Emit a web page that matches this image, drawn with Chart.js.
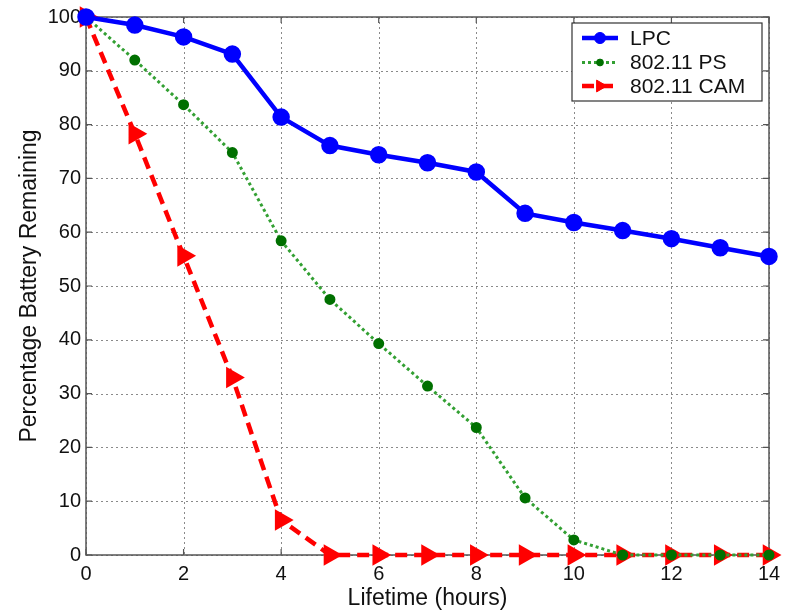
<!DOCTYPE html>
<html>
<head>
<meta charset="utf-8">
<script src="https://cdn.jsdelivr.net/npm/chart.js@4"></script>
<style>
  html, body { margin: 0; padding: 0; background: #fff; }
  #wrap { width: 798px; height: 613px; }
</style>
</head>
<body>
<div id="wrap"><canvas id="batteryChart" width="798" height="613"></canvas></div>
<script>
const hours = [0, 1, 2, 3, 4, 5, 6, 7, 8, 9, 10, 11, 12, 13, 14];
const lpcData = [100, 98.5, 96.3, 93.1, 81.4, 76.1, 74.4, 72.9, 71.2, 63.5, 61.8, 60.3, 58.8, 57.1, 55.5];
const psData = [100, 92.0, 83.7, 74.8, 58.4, 47.5, 39.3, 31.4, 23.7, 10.6, 2.8, 0, 0, 0, 0];
const camData = [100, 78.3, 55.6, 33.0, 6.5, 0, 0, 0, 0, 0, 0, 0, 0, 0, 0];
const xTicks = [0, 2, 4, 6, 8, 10, 12, 14];
const yTicks = [0, 10, 20, 30, 40, 50, 60, 70, 80, 90, 100];

const FONT = '"Liberation Sans", Arial, Helvetica, sans-serif';

const toPoints = (data) => data.map((v, i) => ({ x: hours[i], y: v }));

// dotted grid under the lines
const gridPlugin = {
    id: 'dottedGrid',
    beforeDatasetsDraw: (chart) => {
        const { ctx, chartArea: a, scales } = chart;
        ctx.save();
        ctx.strokeStyle = '#8a8a8a';
        ctx.lineWidth = 1;
        ctx.setLineDash([2, 3]);
        xTicks.forEach((t) => {
            const px = Math.round(scales.x.getPixelForValue(t)) + 0.5;
            ctx.beginPath();
            ctx.moveTo(px, a.top); ctx.lineTo(px, a.bottom);
            ctx.stroke();
        });
        yTicks.forEach((t) => {
            const py = Math.round(scales.y.getPixelForValue(t)) + 0.5;
            ctx.beginPath();
            ctx.moveTo(a.left, py); ctx.lineTo(a.right, py);
            ctx.stroke();
        });
        ctx.restore();
    }
};

// frame on all four sides + inner tick marks, MATLAB style
const framePlugin = {
    id: 'frame',
    beforeDatasetsDraw: (chart) => {
        const { ctx, chartArea: a, scales } = chart;
        ctx.save();
        ctx.strokeStyle = '#555';
        ctx.lineWidth = 1.5;
        ctx.strokeRect(a.left, a.top, a.right - a.left, a.bottom - a.top);
        ctx.lineWidth = 1.2;
        xTicks.forEach((t) => {
            const px = scales.x.getPixelForValue(t);
            ctx.beginPath();
            ctx.moveTo(px, a.bottom); ctx.lineTo(px, a.bottom - 6);
            ctx.moveTo(px, a.top); ctx.lineTo(px, a.top + 6);
            ctx.stroke();
        });
        yTicks.forEach((t) => {
            const py = scales.y.getPixelForValue(t);
            ctx.beginPath();
            ctx.moveTo(a.left, py); ctx.lineTo(a.left + 6, py);
            ctx.moveTo(a.right, py); ctx.lineTo(a.right - 6, py);
            ctx.stroke();
        });
        ctx.restore();
    }
};

// boxed legend in the top right corner
const legendPlugin = {
    id: 'boxLegend',
    afterDraw: (chart) => {
        const { ctx } = chart;
        const box = { x: 572, y: 23, w: 190, h: 78 };
        const rows = [38, 62.5, 86];
        ctx.save();
        ctx.fillStyle = '#fff';
        ctx.fillRect(box.x, box.y, box.w, box.h);
        ctx.strokeStyle = '#333';
        ctx.lineWidth = 1.2;
        ctx.strokeRect(box.x, box.y, box.w, box.h);
        chart.data.datasets.forEach((ds, i) => {
            const cy = rows[i];
            ctx.strokeStyle = ds.borderColor;
            ctx.lineWidth = ds.borderWidth;
            ctx.setLineDash(ds.borderDash || []);
            ctx.beginPath();
            ctx.moveTo(box.x + 10, cy);
            ctx.lineTo(box.x + 46, cy);
            ctx.stroke();
            ctx.setLineDash([]);
            ctx.fillStyle = ds.pointBackgroundColor;
            ctx.strokeStyle = ds.pointBorderColor;
            ctx.lineWidth = 1;
            Chart.helpers.drawPoint(ctx, {
                pointStyle: ds.pointStyle,
                radius: ds.pointRadius * 0.85,
                rotation: ds.pointRotation || 0,
                borderWidth: 1
            }, box.x + 28, cy);
            ctx.fillStyle = '#111';
            ctx.font = '21px ' + FONT;
            ctx.textBaseline = 'middle';
            ctx.fillText(ds.label, box.x + 58, cy + 1);
        });
        ctx.restore();
    }
};

const ctx = document.getElementById('batteryChart').getContext('2d');

const batteryChart = new Chart(ctx, {
    type: 'line',
    data: {
        datasets: [
            {
                label: 'LPC',
                data: toPoints(lpcData),
                borderColor: '#0000ff',
                backgroundColor: '#0000ff',
                pointBackgroundColor: '#0000ff',
                pointBorderColor: '#0000ff',
                borderWidth: 4.5,
                pointStyle: 'circle',
                pointRadius: 6.5,
                tension: 0,
            },
            {
                label: '802.11 PS',
                data: toPoints(psData),
                borderColor: '#33a033',
                backgroundColor: '#007000',
                pointBackgroundColor: '#007000',
                pointBorderColor: '#007000',
                borderWidth: 3,
                borderDash: [3, 3],
                pointStyle: 'circle',
                pointRadius: 4,
                tension: 0,
            },
            {
                label: '802.11 CAM',
                data: toPoints(camData),
                borderColor: '#ff0000',
                backgroundColor: '#ff0000',
                pointBackgroundColor: '#ff0000',
                pointBorderColor: '#ff0000',
                borderWidth: 4.5,
                borderDash: [12, 7],
                pointStyle: 'triangle',
                pointRotation: 90,
                pointRadius: 8,
                tension: 0,
            },
        ],
    },
    options: {
        responsive: false,
        animation: false,
        clip: false,
        layout: { padding: { top: 16, right: 29, left: 0, bottom: 0 } },
        plugins: {
            legend: { display: false },
            tooltip: { enabled: false },
        },
        scales: {
            x: {
                type: 'linear',
                min: 0,
                max: 14,
                afterFit: (scale) => { scale.height = 58; },
                afterBuildTicks: (scale) => { scale.ticks = xTicks.map((v) => ({ value: v })); },
                ticks: { color: '#111', font: { family: FONT, size: 20 }, padding: 7 },
                grid: { display: false, drawTicks: false, tickLength: 0 },
                border: { display: false },
                title: {
                    display: true,
                    text: 'Lifetime (hours)',
                    color: '#111',
                    font: { family: FONT, size: 23 },
                    padding: { top: 0, bottom: 1 },
                },
            },
            y: {
                min: 0,
                max: 100,
                afterFit: (scale) => { scale.width = 86; },
                afterBuildTicks: (scale) => { scale.ticks = yTicks.map((v) => ({ value: v })); },
                ticks: { color: '#111', font: { family: FONT, size: 20 }, padding: 5 },
                grid: { display: false, drawTicks: false, tickLength: 0 },
                border: { display: false },
                title: {
                    display: true,
                    text: 'Percentage Battery Remaining',
                    color: '#111',
                    font: { family: FONT, size: 23 },
                    padding: { top: 16, bottom: 0 },
                },
            },
        },
    },
    plugins: [gridPlugin, framePlugin, legendPlugin],
});
</script>
</body>
</html>
